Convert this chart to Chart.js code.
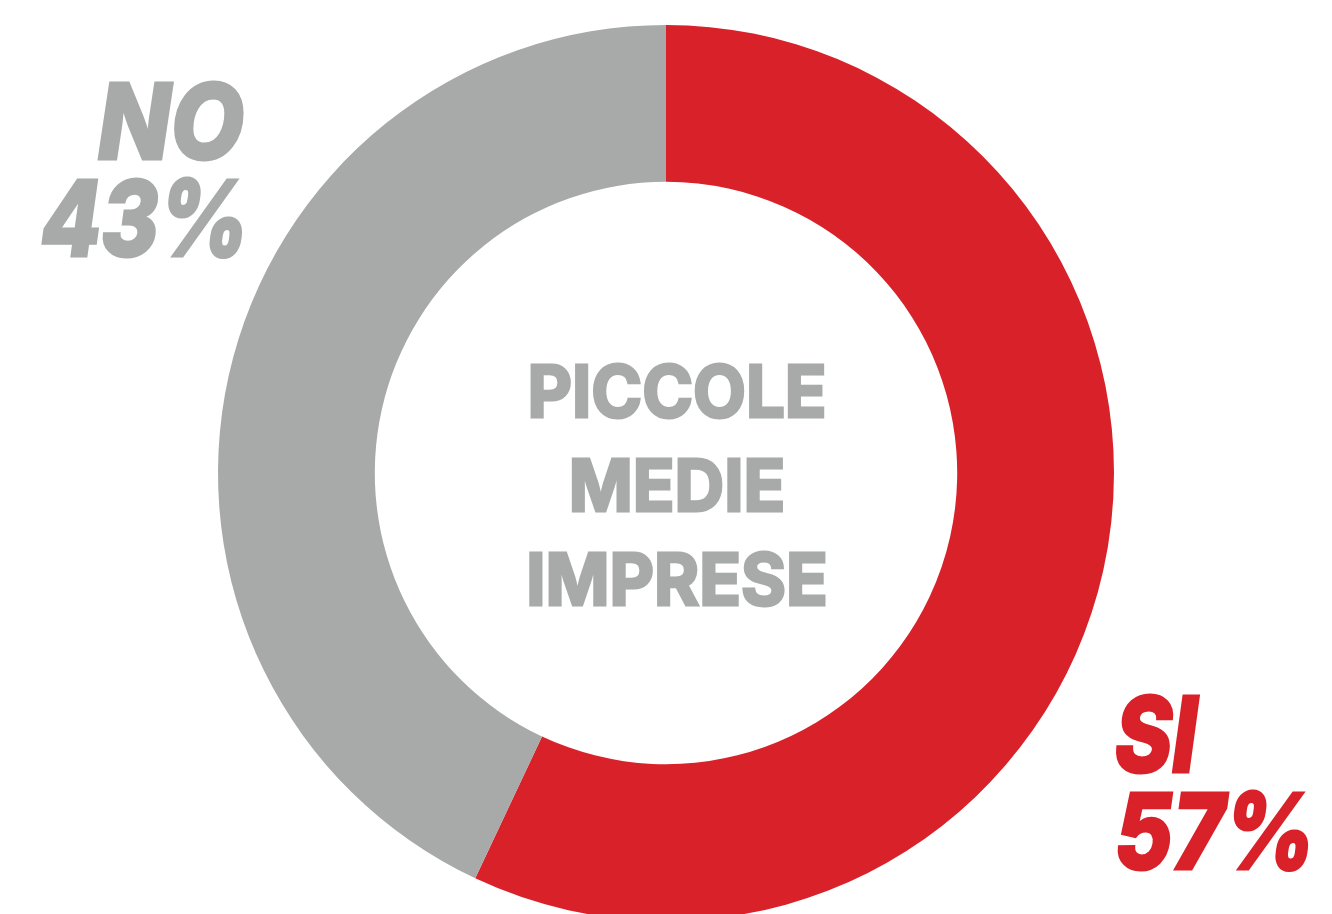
<!DOCTYPE html>
<html>
<head>
<meta charset="utf-8">
<script src="https://cdn.jsdelivr.net/npm/chart.js@4/dist/chart.umd.min.js"></script>
<style>
html, body { margin: 0; padding: 0; background: #fff; overflow: hidden; }
canvas { display: block; }
</style>
</head>
<body>
<canvas id="chart" width="1332" height="946"></canvas>
<script>
var labels = ["SI", "NO"];
var values = [57, 43];
var colors = ["#D9212A", "#A7AAA9"];
var centerLines = ["PICCOLE", "MEDIE", "IMPRESE"];

// draw a string squeezed/stretched to a given width, with an outline to fatten it
function fitText(ctx, text, x, y, align, width, weight){
  var w = ctx.measureText(text).width;
  var sx = width / w;
  ctx.save();
  ctx.translate(x, y);
  ctx.scale(sx, 1);
  ctx.textAlign = align;
  ctx.lineJoin = 'miter';
  ctx.miterLimit = 3;
  ctx.lineWidth = weight;
  ctx.strokeStyle = ctx.fillStyle;
  ctx.strokeText(text, 0, 0);
  ctx.fillText(text, 0, 0);
  ctx.restore();
}

var textPlugin = {
  id: 'doughnutText',
  afterDraw: function(chart){
    var ctx = chart.ctx;
    var area = chart.chartArea;
    var cx = (area.left + area.right) / 2;
    var cy = (area.top + area.bottom) / 2;

    ctx.save();
    ctx.textBaseline = 'alphabetic';

    // title in the hole
    ctx.fillStyle = colors[1];
    ctx.font = '700 72px Inter';
    var sx = 299 / ctx.measureText(centerLines[0]).width;
    var baselines = [-56, 38, 132];
    for(var i=0; i<centerLines.length; i++){
      var w = ctx.measureText(centerLines[i]).width * sx;
      fitText(ctx, centerLines[i], cx + 11, cy + baselines[i], 'center', w, 3);
    }

    // slice labels
    ctx.font = 'italic 800 105px Inter';
    ctx.fillStyle = colors[1];
    fitText(ctx, labels[1], cx - 422, cy - 314, 'right', 146, 3);
    fitText(ctx, values[1] + '%', cx - 417, cy - 217, 'right', 208, 3);

    ctx.fillStyle = colors[0];
    fitText(ctx, labels[0], cx + 449, cy + 299, 'left', 82, 3);
    fitText(ctx, values[0] + '%', cx + 449, cy + 396, 'left', 200, 3);
    ctx.restore();
  }
};

var ctx = document.getElementById("chart").getContext("2d");
var chart = new Chart(ctx, {
  type: 'doughnut',
  data: {
    labels: labels,
    datasets: [{
      data: values,
      backgroundColor: colors,
      borderWidth: 0,
      hoverOffset: 0
    }]
  },
  options: {
    responsive: false,
    animation: false,
    cutout: '65%',
    layout: { padding: 25 },
    plugins: {
      legend: { display: false },
      tooltip: { enabled: false }
    }
  },
  plugins: [textPlugin]
});
</script>
</body>
</html>
